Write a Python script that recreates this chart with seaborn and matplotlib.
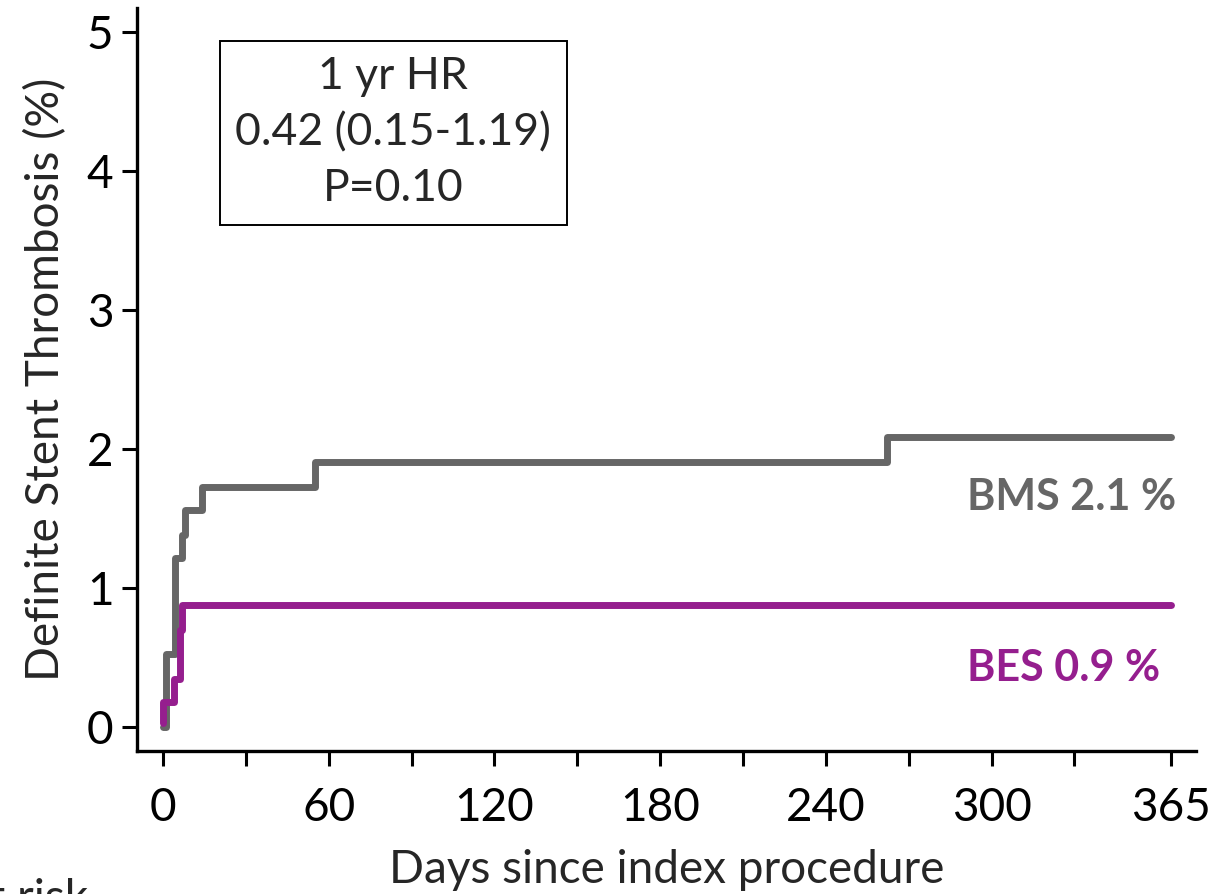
import matplotlib
matplotlib.use("Agg")
import matplotlib.pyplot as plt
import pandas as pd
import seaborn as sns

# Kaplan-Meier step points (day, cumulative %)
bms_days = [0, 1, 4.3, 7, 8, 14, 55, 262, 365]
bms_pct = [0.0, 0.53, 1.22, 1.38, 1.56, 1.73, 1.91, 2.09, 2.09]
bes_days = [0, 0.1, 4, 6, 7, 365]
bes_pct = [0.03, 0.18, 0.35, 0.70, 0.88, 0.88]

groups = ["BMS", "BES"]
colors = {"BMS": "#666666", "BES": "#951e8e"}
end_labels = ["BMS 2.1 %", "BES 0.9 %"]

x_ticks = [0, 30, 60, 90, 120, 150, 180, 210, 240, 270, 300, 330, 365]
x_labels = ["0", "", "60", "", "120", "", "180", "", "240", "", "300", "", "365"]
y_ticks = [0, 1, 2, 3, 4, 5]

hr_text = "1 yr HR\n0.42 (0.15-1.19)\nP=0.10"

df = pd.concat([
    pd.DataFrame({"day": bms_days, "pct": bms_pct, "group": "BMS"}),
    pd.DataFrame({"day": bes_days, "pct": bes_pct, "group": "BES"}),
])

sns.set_style("ticks")
plt.rcParams["font.family"] = ["Lato", "DejaVu Sans"]

fig = plt.figure(figsize=(12.22, 8.94), dpi=100)
ax = fig.add_axes([0.1121, 0.16, 0.8666, 0.831])

sns.lineplot(data=df, x="day", y="pct", hue="group", hue_order=groups,
             palette=colors, drawstyle="steps-post", estimator=None,
             sort=False, linewidth=5, legend=False, ax=ax)

ax.set_xlim(-9.4, 374)
ax.set_ylim(-0.17, 5.17)
ax.set_xticks(x_ticks)
ax.set_xticklabels(x_labels)
ax.set_yticks(y_ticks)
ax.tick_params(axis="both", labelsize=33, length=11, width=2.2, pad=6,
               colors="black")
ax.tick_params(axis="x", pad=15)
for side in ["top", "right"]:
    ax.spines[side].set_visible(False)
for side in ["left", "bottom"]:
    ax.spines[side].set_linewidth(2.4)
    ax.spines[side].set_color("black")

ax.set_xlabel("Days since index procedure", fontsize=33, labelpad=14)
ax.set_ylabel("Definite Stent Thrombosis (%)", fontsize=33, labelpad=14)

ax.text(0.981, 0.342, end_labels[0], transform=ax.transAxes, ha="right",
        va="center", fontsize=31, fontweight="bold", color=colors["BMS"])
ax.text(0.966, 0.112, end_labels[1], transform=ax.transAxes, ha="right",
        va="center", fontsize=31, fontweight="bold", color=colors["BES"])

ax.text(0.242, 0.832, hr_text, transform=ax.transAxes, ha="center",
        va="center", fontsize=32, linespacing=1.45,
        bbox=dict(boxstyle="square,pad=0.35", fc="white", ec="black", lw=1.4))

fig.text(0.072, 1 - 878 / 894, "Number at risk", ha="right", va="top",
         fontsize=33)

fig.savefig("out.png", dpi=100)
